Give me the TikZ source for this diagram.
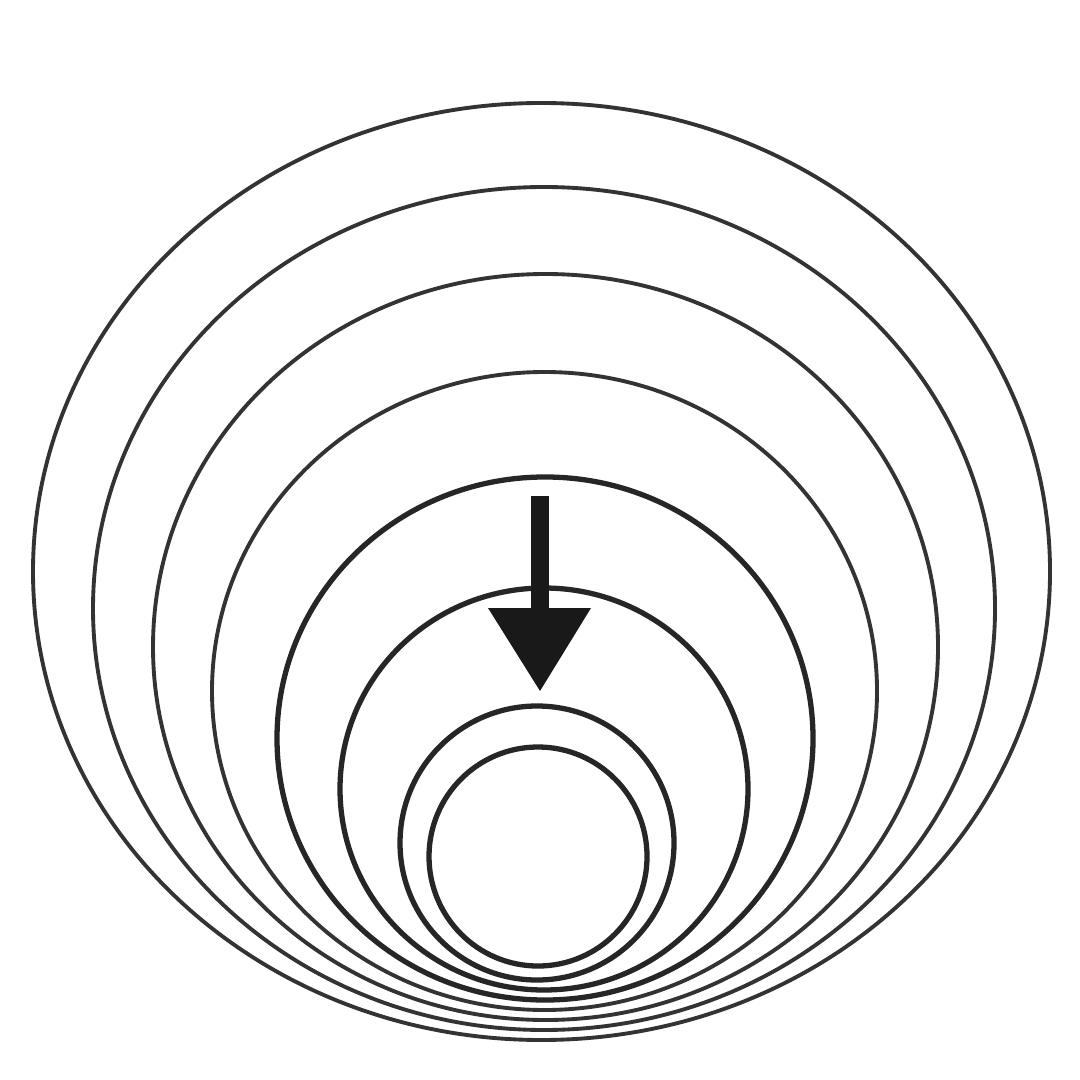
\documentclass[tikz,border=0pt]{standalone}
\begin{document}
\begin{tikzpicture}[x=0.01cm,y=-0.01cm,
  ring/.style={draw=black!80,line width=1.1pt},
  ringin/.style={draw=black!85,line width=1.5pt},
  arrowfill/.style={fill=black!90,draw=none}]
\useasboundingbox (0,0) rectangle (1080,1080);
\fill[white] (0,0) rectangle (1080,1080);
% rings, outer to inner
\draw[ring] (541.5,571.5) ellipse [x radius=508.5, y radius=468.5];
\draw[ring] (544,608.5) ellipse [x radius=451, y radius=421.5];
\draw[ring] (545.5,647) ellipse [x radius=392.5, y radius=373];
\draw[ring] (544.5,691) ellipse [x radius=332.5, y radius=319];
\draw[ringin] (545,738.5) ellipse [x radius=268, y radius=261.5];
\draw[ringin] (544,789) ellipse [x radius=204, y radius=201];
\draw[ringin] (537,843) ellipse [x radius=137, y radius=137];
\draw[ringin] (538,856.5) ellipse [x radius=109, y radius=109.5];
% arrow
\coordinate (shafttop) at (540,496);
\coordinate (tip) at (540,691);
\fill[arrowfill] (531,496) rectangle (549,612);
\fill[arrowfill] (488,608) -- (591,608) -- (tip) -- cycle;
\end{tikzpicture}
\end{document}
